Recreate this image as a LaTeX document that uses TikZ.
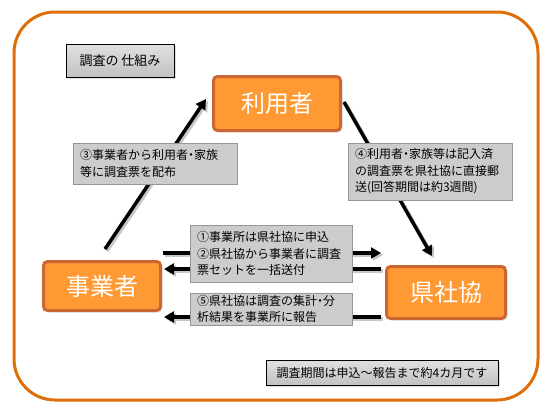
\documentclass[tikz,border=0pt]{standalone}
\usepackage{fontspec}
\setmainfont{Noto Sans CJK JP}
\usetikzlibrary{arrows.meta,shadows}

\definecolor{frameorange}{RGB}{222,110,8}
\definecolor{boxfill}{RGB}{255,153,51}
\definecolor{boxline}{RGB}{204,102,51}
\definecolor{notefill}{RGB}{204,204,204}
\definecolor{noteline}{RGB}{150,150,150}

% narrow middle dot
\newcommand\nkg{{\addfontfeature{RawFeature=+palt}・}}

\pgfdeclarelayer{back}
\pgfsetlayers{back,main}

\begin{document}
\begin{tikzpicture}[x=1pt, y=-1pt,
  party/.style={draw=boxline, fill=boxfill, line width=3pt, rounded corners=4pt,
    text=white, font=\fontsize{24}{28}\selectfont,
    drop shadow={shadow xshift=2pt, shadow yshift=-2pt, fill=black!20}},
  note/.style={draw=noteline, fill=notefill, line width=0.8pt, align=left,
    inner xsep=7pt, inner ysep=0pt, font=\fontsize{12}{16.5}\selectfont},
  caption/.style={draw=black, line width=0.8pt, top color=black!12, bottom color=black!24,
    inner sep=0pt, font=\fontsize{12}{14}\selectfont,
    drop shadow={shadow xshift=2pt, shadow yshift=-2pt, fill=black!25}},
  flow/.style={line width=3.5pt, -{Triangle[length=10pt,width=11pt]}},
  flowshade/.style={flow, black!22, transform canvas={shift={(2pt,-2pt)}}}]
\useasboundingbox (0,0) rectangle (557,413);

% outer frame
\draw[frameorange, line width=3pt, rounded corners=41pt] (14,12) rectangle (538,400);

% the three parties
\node[party, minimum width=127pt, minimum height=54pt] (user) at (277,103.5) {利用者};
\node[party, minimum width=117pt, minimum height=49pt] (office) at (102,286) {事業者};
\node[party, minimum width=119pt, minimum height=52pt] (council) at (446,292.5) {県社協};

% free ends of the arrows
\coordinate (o2u) at (105,249);   \coordinate (u2o) at (206,99);
\coordinate (u2c) at (344,102);   \coordinate (c2u) at (432,256);
\coordinate (o2cA) at (163,253);  \coordinate (c2oA) at (381,253);
\coordinate (c2oB) at (381,269);  \coordinate (o2cB) at (164,269);
\coordinate (c2oC) at (381,317);  \coordinate (o2cC) at (164,317);

\begin{pgfonlayer}{back}
\foreach \s/\e in {o2u/u2o, u2c/c2u, o2cA/c2oA, c2oB/o2cB, c2oC/o2cC}{
  \draw[flowshade] (\s) -- (\e);
  \draw[flow] (\s) -- (\e);
}
\end{pgfonlayer}

% notes
\node[note, text width=150pt, minimum height=41pt] (n3) at (155,163.5)
  {③事業者から利用者\nkg 家族\\等に調査票を配布};
\node[note, text width=150pt, minimum height=57pt] (n4) at (430,171.5)
  {④利用者\nkg 家族等は記入済\\の調査票を県社協に直接郵\\送(回答期間は約3週間)};
\node[note, text width=148pt, minimum height=57pt] (n12) at (271,253.5)
  {①事業所は県社協に申込\\②県社協から事業者に調査\\票セットを一括送付};
\node[note, text width=148pt, minimum height=32pt] (n5) at (271,309)
  {⑤県社協は調査の集計\nkg 分\\析結果を事業所に報告};

% captions
\node[caption, minimum width=108pt, minimum height=33pt, font=\fontsize{13}{15}\selectfont]
  (title) at (120,60.5) {調査の 仕組み};
\node[caption, minimum width=232pt, minimum height=25pt] (period) at (382,372.5) {調査期間は申込～報告まで約4カ月です};

\end{tikzpicture}
\end{document}
